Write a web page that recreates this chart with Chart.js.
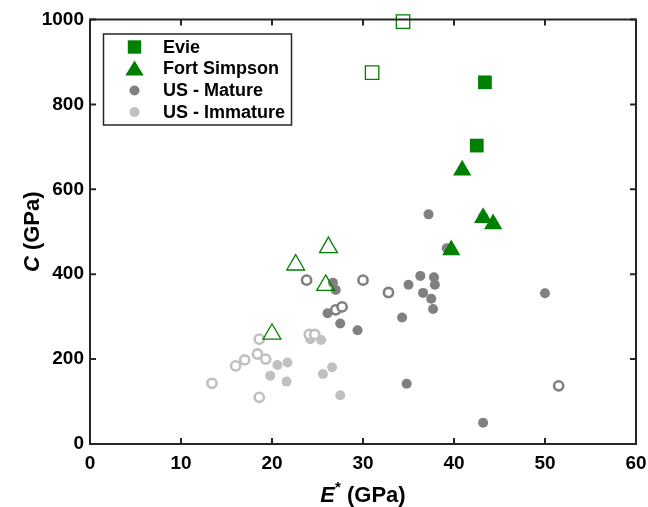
<!DOCTYPE html>
<html lang="en">
<head>
    <meta charset="UTF-8">
    <title>C vs E*</title>
    <script src="https://cdn.jsdelivr.net/npm/chart.js"></script>
    <style>
        html, body { margin: 0; padding: 0; background: #fff; }
    </style>
</head>
<body>
    <canvas id="scatterC" width="648" height="507"></canvas>
    <script>
        // Evie (squares)
        const evieX = [43.4, 42.5];
        const evieY = [852, 703];
        const evieOpenX = [34.4, 31.0];
        const evieOpenY = [995, 875];

        // Fort Simpson (triangles)
        const fortX = [40.9, 43.2, 44.3, 39.7];
        const fortY = [645, 533, 518, 457];
        const fortOpenX = [26.2, 22.6, 25.9, 20.0];
        const fortOpenY = [463, 422, 374, 259];

        // US - Mature
        const matureX = [37.2, 43.2, 39.2, 36.3, 37.8, 37.9, 35.0, 36.6, 37.5, 37.7, 34.3, 50.0, 34.8, 43.2, 26.7, 27.0, 26.1, 27.5, 29.4];
        const matureY = [541, 535, 461, 396, 393, 375, 375, 356, 342, 318, 298, 355, 142, 50, 380, 363, 308, 284, 268];
        const matureOpenX = [23.8, 30.0, 32.8, 51.5, 27.0, 27.7];
        const matureOpenY = [386, 386, 357, 137, 316, 323];

        // US - Immature
        const immatureX = [20.6, 21.7, 19.8, 21.6, 24.2, 25.4, 25.6, 26.6, 27.5];
        const immatureY = [186, 192, 161, 147, 247, 245, 165, 181, 115];
        const immatureOpenX = [18.6, 18.4, 19.3, 17.0, 16.0, 13.4, 18.6, 24.1, 24.7];
        const immatureOpenY = [247, 212, 200, 198, 184, 143, 110, 258, 258];

        const xTicks = [0, 10, 20, 30, 40, 50, 60];
        const yTicks = [0, 200, 400, 600, 800, 1000];

        const GREEN = '#008000';
        const DARK = '#808080';
        const LIGHT = '#c0c0c0';
        const AXIS = '#262626';
        const FONT = '"Liberation Sans", Arial, Helvetica, sans-serif';

        function pts(xs, ys) {
            return xs.map((x, i) => ({ x: x, y: ys[i] }));
        }

        // frame, inward ticks, axis titles, legend
        const framePlugin = {
            id: 'frame',
            afterDraw(chart) {
                const ctx = chart.ctx;
                const a = chart.chartArea;
                const xs = chart.scales.x, ys = chart.scales.y;
                ctx.save();
                ctx.strokeStyle = AXIS;
                ctx.lineWidth = 2;
                ctx.strokeRect(a.left, a.top, a.right - a.left, a.bottom - a.top);
                const tl = 6;
                ctx.beginPath();
                xTicks.forEach(v => {
                    const px = xs.getPixelForValue(v);
                    ctx.moveTo(px, a.bottom); ctx.lineTo(px, a.bottom - tl);
                    ctx.moveTo(px, a.top); ctx.lineTo(px, a.top + tl);
                });
                yTicks.forEach(v => {
                    const py = ys.getPixelForValue(v);
                    ctx.moveTo(a.left, py); ctx.lineTo(a.left + tl, py);
                    ctx.moveTo(a.right, py); ctx.lineTo(a.right - tl, py);
                });
                ctx.stroke();

                // x title: E* (GPa)
                ctx.fillStyle = '#000';
                ctx.textBaseline = 'alphabetic';
                const big = 'bold 22px ' + FONT;
                const sup = 'bold 15px ' + FONT;
                ctx.font = 'italic ' + big;
                const wE = ctx.measureText('E').width;
                ctx.font = sup;
                const wS = ctx.measureText('*').width;
                ctx.font = big;
                const wR = ctx.measureText(' (GPa)').width;
                const cx = (a.left + a.right) / 2;
                let x0 = cx - (wE + wS + wR) / 2;
                const by = 502;
                ctx.textAlign = 'left';
                ctx.font = 'italic ' + big;
                ctx.fillText('E', x0, by);
                ctx.font = sup;
                ctx.fillText('*', x0 + wE, by - 10);
                ctx.font = big;
                ctx.fillText(' (GPa)', x0 + wE + wS, by);

                // y title: C (GPa)
                ctx.save();
                ctx.translate(39, (a.top + a.bottom) / 2);
                ctx.rotate(-Math.PI / 2);
                ctx.font = 'italic ' + big;
                const wC = ctx.measureText('C').width;
                ctx.font = big;
                const wG = ctx.measureText(' (GPa)').width;
                let y0 = -(wC + wG) / 2;
                ctx.font = 'italic ' + big;
                ctx.fillText('C', y0, 0);
                ctx.font = big;
                ctx.fillText(' (GPa)', y0 + wC, 0);
                ctx.restore();

                // legend
                const lx = 103.5, ly = 34, lw = 188, lh = 91;
                ctx.fillStyle = '#fff';
                ctx.fillRect(lx, ly, lw, lh);
                ctx.strokeStyle = AXIS;
                ctx.lineWidth = 1.5;
                ctx.strokeRect(lx, ly, lw, lh);
                const mx = 134.5;
                const rows = [47, 68.5, 90.5, 112];
                // square
                ctx.fillStyle = GREEN;
                ctx.fillRect(mx - 6.7, rows[0] - 6.7, 13.4, 13.4);
                // triangle
                ctx.beginPath();
                ctx.moveTo(mx, rows[1] - 8);
                ctx.lineTo(mx + 9.2, rows[1] + 7);
                ctx.lineTo(mx - 9.2, rows[1] + 7);
                ctx.closePath();
                ctx.fill();
                ctx.fillStyle = DARK;
                ctx.beginPath(); ctx.arc(mx, rows[2], 5, 0, Math.PI * 2); ctx.fill();
                ctx.fillStyle = LIGHT;
                ctx.beginPath(); ctx.arc(mx, rows[3], 5, 0, Math.PI * 2); ctx.fill();
                ctx.fillStyle = '#000';
                ctx.font = 'bold 18px ' + FONT;
                ctx.textBaseline = 'middle';
                ['Evie', 'Fort Simpson', 'US - Mature', 'US - Immature'].forEach((t, i) => {
                    ctx.fillText(t, 163, rows[i] + 1);
                });
                ctx.restore();
            }
        };

        const ctx = document.getElementById('scatterC').getContext('2d');
        new Chart(ctx, {
            type: 'scatter',
            data: {
                datasets: [
                    { label: 'Evie open', data: pts(evieOpenX, evieOpenY), pointStyle: 'rect', pointRadius: 9.5, backgroundColor: '#fff', borderColor: GREEN, borderWidth: 1.3 },
                    { label: 'Evie', data: pts(evieX, evieY), pointStyle: 'rect', pointRadius: 9.7, backgroundColor: GREEN, borderColor: GREEN, borderWidth: 0 },
                    { label: 'Fort Simpson open', data: pts(fortOpenX, fortOpenY), pointStyle: 'triangle', pointRadius: 10.3, backgroundColor: 'rgba(255,255,255,0)', borderColor: GREEN, borderWidth: 1.3 },
                    { label: 'Fort Simpson', data: pts(fortX, fortY), pointStyle: 'triangle', pointRadius: 10.5, backgroundColor: GREEN, borderColor: GREEN, borderWidth: 0 },
                    { label: 'US - Mature open', data: pts(matureOpenX, matureOpenY), pointStyle: 'circle', pointRadius: 4.6, backgroundColor: '#fff', borderColor: DARK, borderWidth: 2.6 },
                    { label: 'US - Mature', data: pts(matureX, matureY), pointStyle: 'circle', pointRadius: 5, backgroundColor: DARK, borderColor: DARK, borderWidth: 0 },
                    { label: 'US - Immature open', data: pts(immatureOpenX, immatureOpenY), pointStyle: 'circle', pointRadius: 4.6, backgroundColor: '#fff', borderColor: LIGHT, borderWidth: 2.6 },
                    { label: 'US - Immature', data: pts(immatureX, immatureY), pointStyle: 'circle', pointRadius: 5, backgroundColor: LIGHT, borderColor: LIGHT, borderWidth: 0 }
                ].map(d => Object.assign(d, { clip: false, pointHoverRadius: d.pointRadius }))
            },
            options: {
                responsive: false,
                animation: false,
                layout: { padding: { left: 0, right: 12, top: 19.5, bottom: 0 } },
                plugins: {
                    legend: { display: false },
                    tooltip: { enabled: false }
                },
                scales: {
                    x: {
                        type: 'linear',
                        min: 0, max: 60,
                        afterFit: s => { s.height = 63; s.paddingLeft = 0; s.paddingRight = 0; },
                        afterBuildTicks: s => { s.ticks = xTicks.map(v => ({ value: v })); },
                        grid: { display: false, drawTicks: false },
                        border: { display: false },
                        ticks: { color: '#000', padding: 8, font: { family: FONT, size: 19, weight: 'bold' }, maxRotation: 0, callback: v => String(v) }
                    },
                    y: {
                        type: 'linear',
                        min: 0, max: 1000,
                        afterFit: s => { s.width = 90; s.paddingTop = 0; s.paddingBottom = 0; },
                        afterBuildTicks: s => { s.ticks = yTicks.map(v => ({ value: v })); },
                        grid: { display: false, drawTicks: false },
                        border: { display: false },
                        ticks: { color: '#000', padding: 6, font: { family: FONT, size: 19, weight: 'bold' }, callback: v => String(v) }
                    }
                }
            },
            plugins: [framePlugin]
        });
    </script>
</body>
</html>
